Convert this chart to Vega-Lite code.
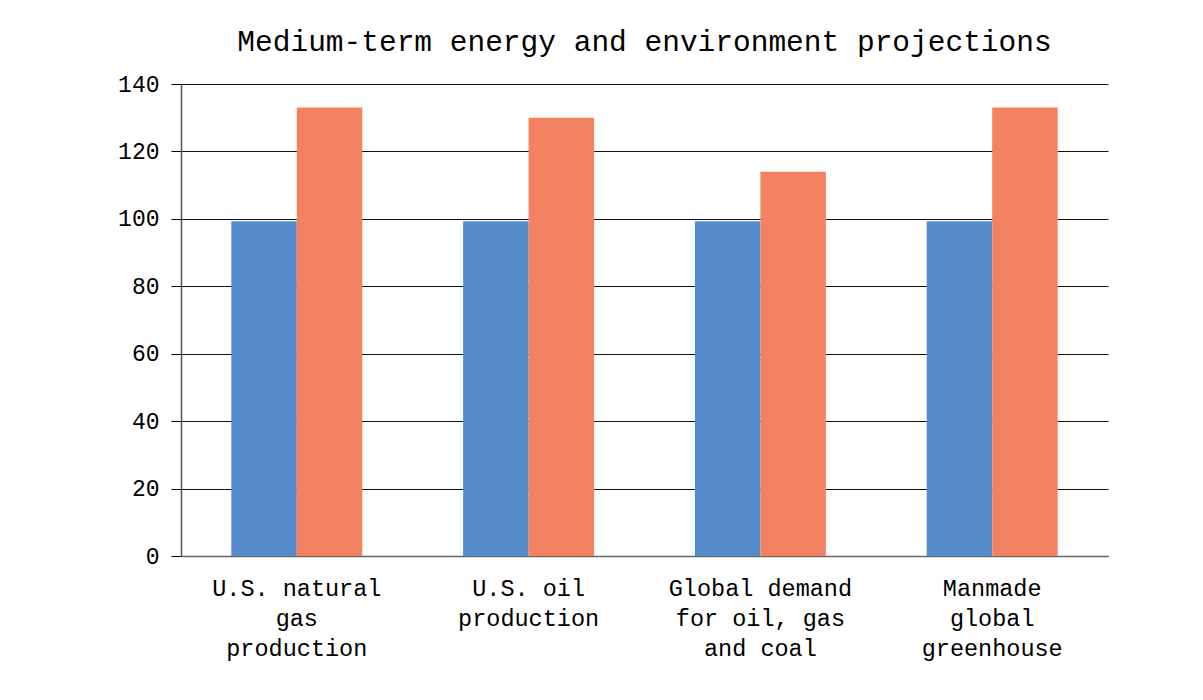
{
  "$schema": "https://vega.github.io/schema/vega-lite/v6.json",
  "width": 927,
  "height": 472,
  "padding": {"left": 117, "top": 26, "right": 10, "bottom": 5},
  "background": "white",
  "title": {
    "text": "Medium-term energy and environment projections",
    "font": "Liberation Mono",
    "fontSize": 29.5,
    "fontWeight": "normal",
    "color": "#000",
    "anchor": "middle",
    "offset": 16
  },
  "data": {
    "values": [
      {"category": "U.S. natural|gas|production", "series": "Current", "value": 99.3},
      {"category": "U.S. natural|gas|production", "series": "Projected", "value": 133},
      {"category": "U.S. oil|production", "series": "Current", "value": 99.3},
      {"category": "U.S. oil|production", "series": "Projected", "value": 130},
      {"category": "Global demand|for oil, gas|and coal", "series": "Current", "value": 99.3},
      {"category": "Global demand|for oil, gas|and coal", "series": "Projected", "value": 114},
      {"category": "Manmade|global|greenhouse", "series": "Current", "value": 99.3},
      {"category": "Manmade|global|greenhouse", "series": "Projected", "value": 133}
    ]
  },
  "mark": {"type": "bar"},
  "encoding": {
    "x": {
      "field": "category",
      "type": "nominal",
      "sort": null,
      "scale": {"paddingInner": 0.435, "paddingOuter": 0.217},
      "axis": {
        "title": null,
        "labelAngle": 0,
        "labelExpr": "split(datum.label, '|')",
        "labelFont": "Liberation Mono",
        "labelFontSize": 23.5,
        "labelColor": "#000",
        "labelLineHeight": 30,
        "labelPadding": 20,
        "labelLimit": 0,
        "ticks": false,
        "domainColor": "#666",
        "domainWidth": 1.5,
        "grid": false
      }
    },
    "xOffset": {"field": "series", "type": "nominal"},
    "y": {
      "field": "value",
      "type": "quantitative",
      "scale": {"domain": [0, 140], "nice": false},
      "axis": {
        "title": null,
        "values": [0, 20, 40, 60, 80, 100, 120, 140],
        "labelFont": "Liberation Mono",
        "labelFontSize": 23,
        "labelColor": "#000",
        "labelPadding": 12,
        "tickSize": 10,
        "tickColor": "#000",
        "domainColor": "#555",
        "domainWidth": 1.5,
        "grid": true,
        "gridColor": "#111",
        "gridWidth": 1
      }
    },
    "color": {
      "field": "series",
      "type": "nominal",
      "scale": {"domain": ["Current", "Projected"], "range": ["#548CCB", "#F38263"]},
      "legend": null
    }
  },
  "config": {
    "view": {"stroke": null}
  }
}
